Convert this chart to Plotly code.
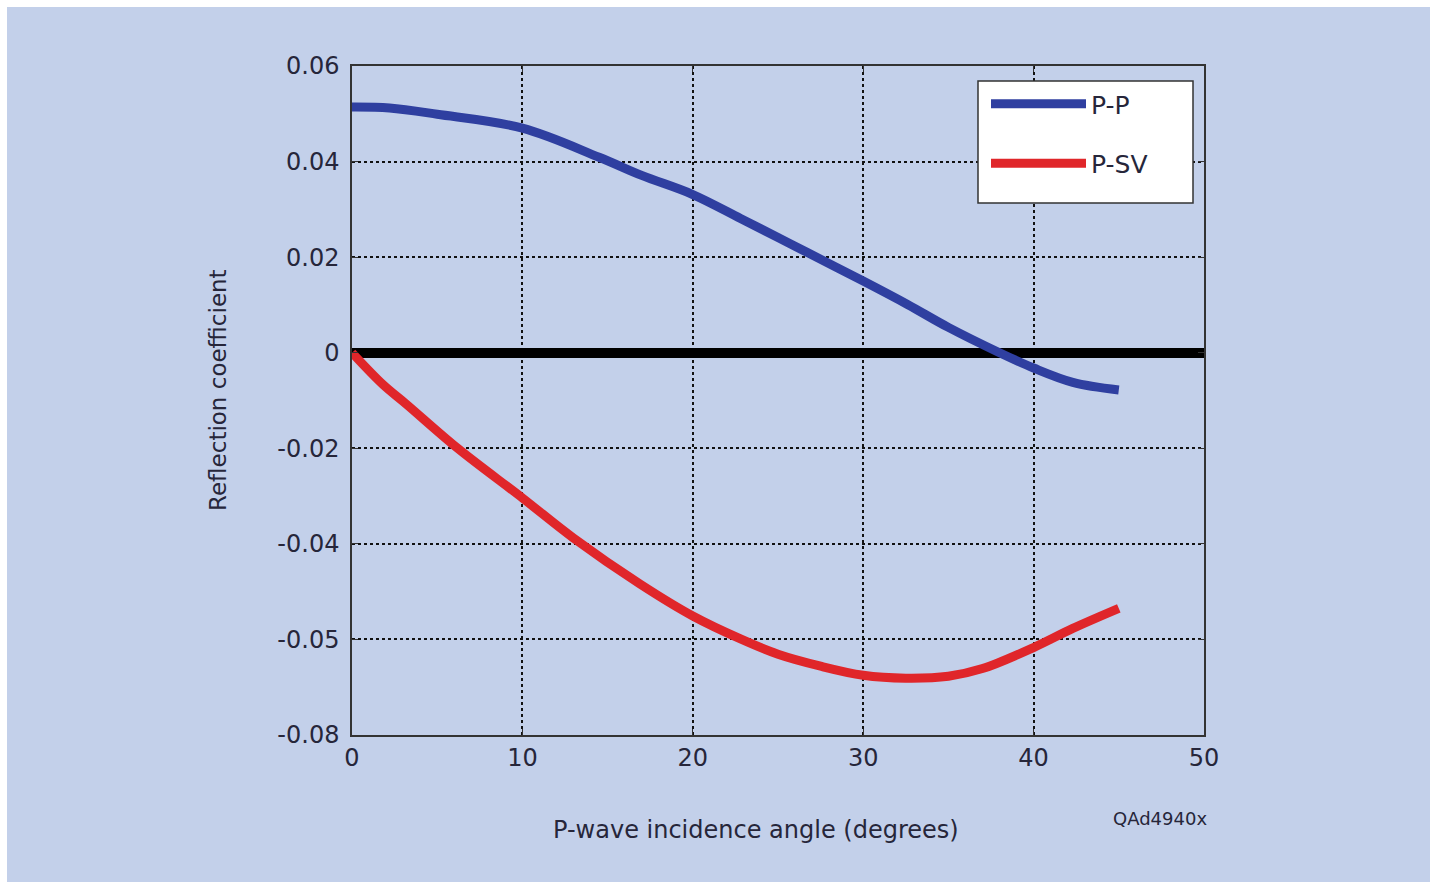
import plotly.graph_objects as go

# ---- data ----
angle_pp = [0, 2.2, 5, 10, 14.5, 17, 20, 22.8, 25, 26.7, 30, 32.6, 35, 38.0, 40, 42.3, 45]
refl_pp = [0.0514, 0.0512, 0.0499, 0.0470, 0.0409, 0.0371, 0.0331, 0.0281, 0.0241, 0.0210,
           0.0150, 0.0101, 0.0053, 0.0000, -0.0032, -0.0062, -0.0078]

angle_psv = [0, 1.8, 3.2, 6.2, 10, 13, 16.9, 20, 22.8, 25, 27.5, 30, 32.5, 35, 37, 40, 42.3, 45]
refl_psv = [0.0, -0.0066, -0.0108, -0.0200, -0.0304, -0.0388, -0.0484, -0.0551, -0.0599,
            -0.0631, -0.0656, -0.0675, -0.0681, -0.0677, -0.0661, -0.0617, -0.0577, -0.0535]

x_ticks = [0, 10, 20, 30, 40, 50]
y_tickvals = [0.06, 0.04, 0.02, 0, -0.02, -0.04, -0.06, -0.08]
y_ticktext = ["0.06", "0.04", "0.02", "0", "-0.02", "-0.04", "-0.05", "-0.08"]

series_names = ["P-P", "P-SV"]
series_colors = ["#2f3fa0", "#e0262a"]

W, H = 1437, 886
ML, MR, MT, MB = 352, 233, 66, 151
PW, PH = W - ML - MR, H - MT - MB

def px_x(p):
    return (p - ML) / PW

def px_y(p):
    return (H - MB - p) / PH

FONT = "DejaVu Sans, Liberation Sans, Arial, sans-serif"
TXT = "#26263a"

fig = go.Figure()
fig.add_trace(go.Scatter(x=angle_pp, y=refl_pp, mode="lines", name=series_names[0],
                         line=dict(color=series_colors[0], width=9, shape="spline"),
                         legendgroup="a"))
fig.add_trace(go.Scatter(x=angle_psv, y=refl_psv, mode="lines", name=series_names[1],
                         line=dict(color=series_colors[1], width=9, shape="spline"),
                         legendgroup="b"))

# blue page background with thin white frame
fig.add_shape(type="rect", xref="paper", yref="paper",
              x0=px_x(7), x1=px_x(1430), y0=px_y(882), y1=px_y(7),
              fillcolor="#c3d0ea", line=dict(width=0), layer="below")
# legend box
fig.add_shape(type="rect", xref="paper", yref="paper",
              x0=px_x(978), x1=px_x(1193), y0=px_y(203), y1=px_y(81),
              fillcolor="#ffffff", line=dict(color="#333333", width=1.5), layer="above")

axis_common = dict(showline=True, linecolor="#333333", linewidth=1.5, mirror="ticks",
                   ticks="inside", ticklen=6, tickcolor="#333333",
                   showgrid=True, gridcolor="#111111", gridwidth=2, griddash="dot",
                   tickfont=dict(family=FONT, size=24, color=TXT))

fig.update_xaxes(range=[0, 50], tickvals=x_ticks, zeroline=False, **axis_common)
fig.update_yaxes(range=[-0.08, 0.06], tickvals=y_tickvals, ticktext=y_ticktext,
                 zeroline=True, zerolinecolor="#000000", zerolinewidth=10,
                 ticklabelstandoff=6, **axis_common)

fig.add_annotation(text="P-wave incidence angle (degrees)", xref="paper", yref="paper",
                   x=px_x(756), y=px_y(830), xanchor="center", yanchor="middle",
                   showarrow=False, font=dict(family=FONT, size=24, color=TXT))
fig.add_annotation(text="Reflection coefficient", xref="paper", yref="paper",
                   x=px_x(218), y=px_y(390), xanchor="center", yanchor="middle",
                   showarrow=False, textangle=-90,
                   font=dict(family=FONT, size=23, color=TXT))
fig.add_annotation(text="QAd4940x", xref="paper", yref="paper",
                   x=px_x(1160), y=px_y(818), xanchor="center", yanchor="middle",
                   showarrow=False, font=dict(family=FONT, size=18, color=TXT))

fig.update_layout(
    width=W, height=H,
    margin=dict(l=ML, r=MR, t=MT, b=MB, autoexpand=False),
    paper_bgcolor="#ffffff", plot_bgcolor="#ffffff",
    showlegend=True,
    legend=dict(x=px_x(986), y=px_y(81), xanchor="left", yanchor="top",
                bgcolor="rgba(0,0,0,0)", borderwidth=0,
                font=dict(family=FONT, size=25, color=TXT),
                tracegroupgap=24, itemwidth=95, traceorder="grouped"),
)

fig.write_html("out.html")
